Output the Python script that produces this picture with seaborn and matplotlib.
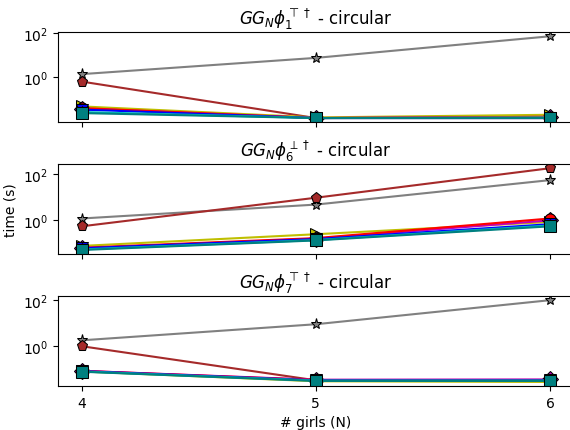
import numpy as np
import pandas as pd
import matplotlib
matplotlib.use('Agg')
import matplotlib.pyplot as plt
import seaborn as sns

girls = [4, 5, 6]

methods = ['m1', 'm2', 'm3', 'm5', 'm4', 'm6', 'm7', 'm8']
colors = ['gray', 'brown', 'y', 'm', 'r', 'b', 'c', 'teal']
markers = ['*', 'p', '>', 'D', 'o', 'v', '^', 's']

# timings (s) per method, one list per panel
times_phi1 = [
    [1.4, 7.5, 70.0],
    [0.65, 0.015, 0.015],
    [0.05, 0.016, 0.021],
    [0.04, 0.015, 0.017],
    [0.042, 0.015, 0.017],
    [0.036, 0.015, 0.015],
    [0.028, 0.015, 0.016],
    [0.025, 0.015, 0.015],
]
times_phi6 = [
    [1.2, 4.8, 55.0],
    [0.55, 9.5, 180.0],
    [0.078, 0.25, 0.85],
    [0.062, 0.16, 1.0],
    [0.065, 0.17, 1.2],
    [0.062, 0.155, 0.68],
    [0.055, 0.14, 0.6],
    [0.052, 0.135, 0.55],
]
times_phi7 = [
    [1.8, 9.0, 100.0],
    [1.0, 0.033, 0.03],
    [0.08, 0.03, 0.028],
    [0.085, 0.035, 0.036],
    [0.085, 0.034, 0.034],
    [0.083, 0.033, 0.033],
    [0.08, 0.032, 0.032],
    [0.078, 0.031, 0.031],
]

titles = [r'$GG_N\phi_1^{\top\dagger}$ - circular',
          r'$GG_N\phi_6^{\perp\dagger}$ - circular',
          r'$GG_N\phi_7^{\top\dagger}$ - circular']


def to_frame(times):
    rows = []
    for m, vals in zip(methods, times):
        for n, t in zip(girls, vals):
            rows.append({'method': m, 'N': n, 'time': t})
    return pd.DataFrame(rows)


fig, axes = plt.subplots(3, 1, figsize=(5.7, 4.31), dpi=100, sharex=True)

for ax, times, title in zip(axes, [times_phi1, times_phi6, times_phi7], titles):
    df = to_frame(times)
    for m, c, mk in zip(methods, colors, markers):
        sns.lineplot(data=df[df['method'] == m], x='N', y='time', ax=ax,
                     color=c, marker=mk, markersize=8, markeredgecolor='k',
                     linewidth=1.5, legend=False)
    ax.set_yscale('log')
    ax.set_yticks([1, 100])
    ax.minorticks_off()
    ax.set_title(title)
    ax.set_xlabel('')
    ax.set_ylabel('')

axes[1].set_ylabel('time (s)')
axes[2].set_xlabel('# girls (N)')
axes[2].set_xticks(girls)

fig.subplots_adjust(left=0.102, right=1.006, top=0.923, bottom=0.102, hspace=0.467)
plt.savefig('out.png', dpi=100)
